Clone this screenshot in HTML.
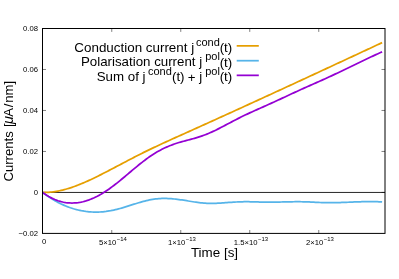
<!DOCTYPE html>
<html><head><meta charset="utf-8"><title>plot</title>
<style>
html,body{margin:0;padding:0;background:#fff;}
body{width:399px;height:279px;overflow:hidden;}
svg{display:block;will-change:transform;}
text{font-family:"Liberation Sans",sans-serif;fill:#000;}
.t{font-size:7.7px;}
.ts{font-size:5.93px;}
.k{font-size:13.3px;}
.ks{font-size:11.0px;}
.a{font-size:13.1px;}
</style></head><body>
<svg width="399" height="279" viewBox="0 0 399 279">
<rect x="0" y="0" width="399" height="279" fill="#ffffff"/>
<g stroke="#000" stroke-width="0.5" fill="none">
<path d="M42.5,192.42 h3.5 M385.0,192.42 h-3.5"/>
<path d="M42.5,151.44 h3.5 M385.0,151.44 h-3.5"/>
<path d="M42.5,110.46 h3.5 M385.0,110.46 h-3.5"/>
<path d="M42.5,69.48 h3.5 M385.0,69.48 h-3.5"/>
<path d="M111.75,233.4 v-3.4 M111.75,28.5 v3.4"/>
<path d="M180.75,233.4 v-3.4 M180.75,28.5 v3.4"/>
<path d="M249.75,233.4 v-3.4 M249.75,28.5 v3.4"/>
<path d="M318.75,233.4 v-3.4 M318.75,28.5 v3.4"/>
</g>
<path d="M42.5,192.45 H385.0" stroke="#000" stroke-width="0.85" fill="none"/>
<g fill="none" stroke-width="1.75" stroke-linejoin="round" stroke-linecap="butt">
<path d="M42.50,192.40 L44.05,192.42 L45.60,192.41 L47.15,192.36 L48.70,192.27 L50.25,192.15 L51.80,192.00 L53.35,191.81 L54.91,191.59 L56.46,191.34 L58.01,191.06 L59.56,190.75 L61.11,190.41 L62.66,190.04 L64.21,189.65 L65.76,189.23 L67.31,188.78 L68.86,188.31 L70.41,187.82 L71.96,187.31 L73.51,186.77 L75.06,186.21 L76.62,185.63 L78.17,185.04 L79.72,184.42 L81.27,183.79 L82.82,183.14 L84.37,182.48 L85.92,181.80 L87.47,181.10 L89.02,180.39 L90.57,179.68 L92.12,178.94 L93.67,178.20 L95.22,177.45 L96.77,176.69 L98.32,175.93 L99.88,175.15 L101.43,174.37 L102.98,173.58 L104.53,172.79 L106.08,171.99 L107.63,171.19 L109.18,170.39 L110.73,169.58 L112.28,168.76 L113.83,167.95 L115.38,167.13 L116.93,166.32 L118.48,165.50 L120.03,164.68 L121.58,163.86 L123.14,163.04 L124.69,162.22 L126.24,161.41 L127.79,160.59 L129.34,159.78 L130.89,158.97 L132.44,158.16 L133.99,157.36 L135.54,156.56 L137.09,155.77 L138.64,154.98 L140.19,154.20 L141.74,153.42 L143.29,152.65 L144.85,151.89 L146.40,151.13 L147.95,150.37 L149.50,149.62 L151.05,148.88 L152.60,148.14 L154.15,147.40 L155.70,146.67 L157.25,145.94 L158.80,145.22 L160.35,144.50 L161.90,143.78 L163.45,143.06 L165.00,142.35 L166.55,141.64 L168.11,140.93 L169.66,140.23 L171.21,139.52 L172.76,138.82 L174.31,138.12 L175.86,137.42 L177.41,136.72 L178.96,136.03 L180.51,135.33 L182.06,134.63 L183.61,133.94 L185.16,133.24 L186.71,132.54 L188.26,131.84 L189.82,131.15 L191.37,130.45 L192.92,129.75 L194.47,129.05 L196.02,128.35 L197.57,127.65 L199.12,126.95 L200.67,126.25 L202.22,125.55 L203.77,124.85 L205.32,124.15 L206.87,123.45 L208.42,122.74 L209.97,122.04 L211.52,121.34 L213.08,120.64 L214.63,119.93 L216.18,119.23 L217.73,118.52 L219.28,117.82 L220.83,117.12 L222.38,116.41 L223.93,115.71 L225.48,115.00 L227.03,114.29 L228.58,113.59 L230.13,112.88 L231.68,112.18 L233.23,111.47 L234.78,110.76 L236.34,110.05 L237.89,109.35 L239.44,108.64 L240.99,107.93 L242.54,107.22 L244.09,106.51 L245.64,105.80 L247.19,105.09 L248.74,104.38 L250.29,103.67 L251.84,102.96 L253.39,102.25 L254.94,101.54 L256.49,100.83 L258.05,100.12 L259.60,99.41 L261.15,98.70 L262.70,97.99 L264.25,97.27 L265.80,96.56 L267.35,95.85 L268.90,95.14 L270.45,94.42 L272.00,93.71 L273.55,93.00 L275.10,92.28 L276.65,91.57 L278.20,90.86 L279.75,90.14 L281.31,89.43 L282.86,88.71 L284.41,88.00 L285.96,87.28 L287.51,86.57 L289.06,85.85 L290.61,85.14 L292.16,84.42 L293.71,83.70 L295.26,82.99 L296.81,82.27 L298.36,81.55 L299.91,80.84 L301.46,80.12 L303.02,79.40 L304.57,78.68 L306.12,77.97 L307.67,77.25 L309.22,76.53 L310.77,75.81 L312.32,75.10 L313.87,74.38 L315.42,73.66 L316.97,72.94 L318.52,72.22 L320.07,71.50 L321.62,70.78 L323.17,70.06 L324.72,69.34 L326.28,68.62 L327.83,67.90 L329.38,67.18 L330.93,66.46 L332.48,65.74 L334.03,65.02 L335.58,64.30 L337.13,63.58 L338.68,62.86 L340.23,62.14 L341.78,61.42 L343.33,60.70 L344.88,59.98 L346.43,59.26 L347.98,58.54 L349.54,57.82 L351.09,57.09 L352.64,56.37 L354.19,55.65 L355.74,54.93 L357.29,54.21 L358.84,53.48 L360.39,52.76 L361.94,52.04 L363.49,51.32 L365.04,50.60 L366.59,49.87 L368.14,49.15 L369.69,48.43 L371.25,47.71 L372.80,46.98 L374.35,46.26 L375.90,45.54 L377.45,44.82 L379.00,44.09 L380.55,43.37 L382.10,42.65" stroke="#e69f00"/>
<path d="M42.50,192.40 L44.05,193.56 L45.60,194.69 L47.15,195.78 L48.70,196.83 L50.25,197.84 L51.80,198.82 L53.35,199.76 L54.91,200.67 L56.46,201.54 L58.01,202.37 L59.56,203.17 L61.11,203.93 L62.66,204.66 L64.21,205.35 L65.76,206.00 L67.31,206.63 L68.86,207.21 L70.41,207.77 L71.96,208.28 L73.51,208.77 L75.06,209.22 L76.62,209.64 L78.17,210.02 L79.72,210.37 L81.27,210.69 L82.82,210.97 L84.37,211.23 L85.92,211.45 L87.47,211.63 L89.02,211.79 L90.57,211.91 L92.12,212.00 L93.67,212.06 L95.22,212.09 L96.77,212.09 L98.32,212.06 L99.88,212.00 L101.43,211.90 L102.98,211.78 L104.53,211.62 L106.08,211.44 L107.63,211.22 L109.18,210.98 L110.73,210.71 L112.28,210.40 L113.83,210.07 L115.38,209.71 L116.93,209.33 L118.48,208.93 L120.03,208.50 L121.58,208.06 L123.14,207.60 L124.69,207.14 L126.24,206.66 L127.79,206.17 L129.34,205.68 L130.89,205.19 L132.44,204.69 L133.99,204.20 L135.54,203.71 L137.09,203.23 L138.64,202.76 L140.19,202.31 L141.74,201.86 L143.29,201.44 L144.85,201.03 L146.40,200.65 L147.95,200.29 L149.50,199.95 L151.05,199.65 L152.60,199.38 L154.15,199.14 L155.70,198.94 L157.25,198.77 L158.80,198.64 L160.35,198.55 L161.90,198.49 L163.45,198.46 L165.00,198.46 L166.55,198.48 L168.11,198.54 L169.66,198.62 L171.21,198.72 L172.76,198.85 L174.31,199.00 L175.86,199.16 L177.41,199.35 L178.96,199.55 L180.51,199.76 L182.06,199.99 L183.61,200.23 L185.16,200.48 L186.71,200.73 L188.26,200.99 L189.82,201.25 L191.37,201.50 L192.92,201.75 L194.47,202.00 L196.02,202.23 L197.57,202.45 L199.12,202.65 L200.67,202.83 L202.22,202.99 L203.77,203.12 L205.32,203.23 L206.87,203.31 L208.42,203.36 L209.97,203.38 L211.52,203.38 L213.08,203.36 L214.63,203.32 L216.18,203.26 L217.73,203.19 L219.28,203.10 L220.83,203.01 L222.38,202.91 L223.93,202.80 L225.48,202.69 L227.03,202.58 L228.58,202.47 L230.13,202.37 L231.68,202.27 L233.23,202.17 L234.78,202.08 L236.34,202.00 L237.89,201.93 L239.44,201.86 L240.99,201.81 L242.54,201.77 L244.09,201.74 L245.64,201.72 L247.19,201.72 L248.74,201.74 L250.29,201.76 L251.84,201.79 L253.39,201.83 L254.94,201.88 L256.49,201.92 L258.05,201.97 L259.60,202.02 L261.15,202.07 L262.70,202.11 L264.25,202.14 L265.80,202.17 L267.35,202.19 L268.90,202.21 L270.45,202.20 L272.00,202.19 L273.55,202.17 L275.10,202.15 L276.65,202.11 L278.20,202.08 L279.75,202.04 L281.31,202.00 L282.86,201.96 L284.41,201.93 L285.96,201.89 L287.51,201.85 L289.06,201.82 L290.61,201.79 L292.16,201.77 L293.71,201.75 L295.26,201.73 L296.81,201.73 L298.36,201.73 L299.91,201.73 L301.46,201.75 L303.02,201.78 L304.57,201.81 L306.12,201.86 L307.67,201.91 L309.22,201.98 L310.77,202.05 L312.32,202.12 L313.87,202.20 L315.42,202.28 L316.97,202.35 L318.52,202.43 L320.07,202.50 L321.62,202.56 L323.17,202.61 L324.72,202.66 L326.28,202.69 L327.83,202.71 L329.38,202.72 L330.93,202.72 L332.48,202.71 L334.03,202.69 L335.58,202.66 L337.13,202.63 L338.68,202.59 L340.23,202.54 L341.78,202.49 L343.33,202.43 L344.88,202.38 L346.43,202.31 L347.98,202.25 L349.54,202.19 L351.09,202.12 L352.64,202.06 L354.19,201.99 L355.74,201.93 L357.29,201.88 L358.84,201.82 L360.39,201.77 L361.94,201.73 L363.49,201.69 L365.04,201.65 L366.59,201.63 L368.14,201.61 L369.69,201.60 L371.25,201.60 L372.80,201.61 L374.35,201.64 L375.90,201.67 L377.45,201.72 L379.00,201.78 L380.55,201.86 L382.10,201.95" stroke="#56b4e9"/>
<path d="M42.50,192.40 L44.05,193.52 L45.60,194.58 L47.15,195.57 L48.70,196.49 L50.25,197.35 L51.80,198.15 L53.35,198.88 L54.91,199.55 L56.46,200.16 L58.01,200.71 L59.56,201.20 L61.11,201.63 L62.66,202.00 L64.21,202.31 L65.76,202.56 L67.31,202.76 L68.86,202.90 L70.41,202.98 L71.96,203.01 L73.51,202.99 L75.06,202.91 L76.62,202.77 L78.17,202.59 L79.72,202.35 L81.27,202.07 L82.82,201.73 L84.37,201.34 L85.92,200.90 L87.47,200.42 L89.02,199.88 L90.57,199.30 L92.12,198.67 L93.67,198.00 L95.22,197.28 L96.77,196.52 L98.32,195.71 L99.88,194.86 L101.43,193.97 L102.98,193.03 L104.53,192.06 L106.08,191.05 L107.63,190.00 L109.18,188.92 L110.73,187.81 L112.28,186.66 L113.83,185.49 L115.38,184.29 L116.93,183.07 L118.48,181.83 L120.03,180.57 L121.58,179.30 L123.14,178.01 L124.69,176.72 L126.24,175.41 L127.79,174.10 L129.34,172.79 L130.89,171.48 L132.44,170.18 L133.99,168.88 L135.54,167.59 L137.09,166.31 L138.64,165.04 L140.19,163.80 L141.74,162.57 L143.29,161.36 L144.85,160.18 L146.40,159.02 L147.95,157.90 L149.50,156.81 L151.05,155.75 L152.60,154.72 L154.15,153.73 L155.70,152.78 L157.25,151.87 L158.80,150.99 L160.35,150.15 L161.90,149.34 L163.45,148.57 L165.00,147.83 L166.55,147.12 L168.11,146.44 L169.66,145.80 L171.21,145.19 L172.76,144.60 L174.31,144.04 L175.86,143.51 L177.41,143.01 L178.96,142.53 L180.51,142.08 L182.06,141.65 L183.61,141.22 L185.16,140.81 L186.71,140.41 L188.26,140.01 L189.82,139.60 L191.37,139.19 L192.92,138.76 L194.47,138.33 L196.02,137.87 L197.57,137.39 L199.12,136.90 L200.67,136.39 L202.22,135.85 L203.77,135.29 L205.32,134.70 L206.87,134.09 L208.42,133.46 L209.97,132.79 L211.52,132.11 L213.08,131.40 L214.63,130.67 L216.18,129.92 L217.73,129.16 L219.28,128.38 L220.83,127.58 L222.38,126.78 L223.93,125.96 L225.48,125.15 L227.03,124.32 L228.58,123.50 L230.13,122.68 L231.68,121.86 L233.23,121.04 L234.78,120.24 L236.34,119.44 L237.89,118.65 L239.44,117.86 L240.99,117.09 L242.54,116.33 L244.09,115.57 L245.64,114.83 L247.19,114.09 L248.74,113.37 L250.29,112.65 L251.84,111.94 L253.39,111.24 L254.94,110.54 L256.49,109.84 L258.05,109.15 L259.60,108.46 L261.15,107.77 L262.70,107.08 L264.25,106.39 L265.80,105.69 L267.35,105.00 L268.90,104.30 L270.45,103.60 L272.00,102.89 L273.55,102.19 L275.10,101.47 L276.65,100.76 L278.20,100.04 L279.75,99.33 L281.31,98.61 L282.86,97.89 L284.41,97.17 L285.96,96.45 L287.51,95.73 L289.06,95.01 L290.61,94.29 L292.16,93.57 L293.71,92.86 L295.26,92.14 L296.81,91.43 L298.36,90.72 L299.91,90.01 L301.46,89.31 L303.02,88.61 L304.57,87.91 L306.12,87.21 L307.67,86.52 L309.22,85.83 L310.77,85.15 L312.32,84.46 L313.87,83.78 L315.42,83.09 L316.97,82.41 L318.52,81.72 L320.07,81.03 L321.62,80.34 L323.17,79.64 L324.72,78.94 L326.28,78.23 L327.83,77.52 L329.38,76.81 L330.93,76.09 L332.48,75.36 L334.03,74.63 L335.58,73.90 L337.13,73.17 L338.68,72.43 L340.23,71.69 L341.78,70.94 L343.33,70.20 L344.88,69.45 L346.43,68.70 L347.98,67.96 L349.54,67.21 L351.09,66.46 L352.64,65.71 L354.19,64.96 L355.74,64.21 L357.29,63.46 L358.84,62.71 L360.39,61.97 L361.94,61.22 L363.49,60.48 L365.04,59.74 L366.59,59.00 L368.14,58.27 L369.69,57.54 L371.25,56.82 L372.80,56.09 L374.35,55.38 L375.90,54.66 L377.45,53.95 L379.00,53.25 L380.55,52.55 L382.10,51.86" stroke="#9400d3"/>
<path d="M236.7,45.85 H258.8" stroke="#e69f00"/>
<path d="M236.7,60.7 H258.8" stroke="#56b4e9"/>
<path d="M236.7,75.35 H258.8" stroke="#9400d3"/>
</g>
<rect x="42.5" y="28.5" width="342.5" height="204.9" fill="none" stroke="#000" stroke-width="1"/>
<text class="t" x="38" y="236.05" text-anchor="end">−0.02</text>
<text class="t" x="38" y="195.07" text-anchor="end">0</text>
<text class="t" x="38" y="154.09" text-anchor="end">0.02</text>
<text class="t" x="38" y="113.11" text-anchor="end">0.04</text>
<text class="t" x="38" y="72.13" text-anchor="end">0.06</text>
<text class="t" x="38" y="31.15" text-anchor="end">0.08</text>
<text class="t" x="44.10" y="244.1" text-anchor="middle">0</text>
<text class="t" x="112.90" y="245.1" text-anchor="middle">5×10<tspan class="ts" dx="0.4" dy="-3.8">−14</tspan></text>
<text class="t" x="181.90" y="245.1" text-anchor="middle">1×10<tspan class="ts" dx="0.4" dy="-3.8">−13</tspan></text>
<text class="t" x="250.90" y="245.1" text-anchor="middle">1.5×10<tspan class="ts" dx="0.4" dy="-3.8">−13</tspan></text>
<text class="t" x="319.90" y="245.1" text-anchor="middle">2×10<tspan class="ts" dx="0.4" dy="-3.8">−13</tspan></text>
<text class="k" x="194.2" y="51.6" text-anchor="end" style="font-size:13.4px">Conduction current j</text>
<text class="ks" x="195.9" y="45.6">cond</text>
<text class="k" x="232.2" y="52.2" text-anchor="end">(t)</text>
<text class="k" x="202.2" y="66.0" text-anchor="end">Polarisation current j</text>
<text class="ks" x="205.2" y="60.0">pol</text>
<text class="k" x="232.2" y="66.6" text-anchor="end">(t)</text>
<text class="k" x="145.5" y="80.7" text-anchor="end">Sum of j</text>
<text class="ks" x="148.0" y="74.7">cond</text>
<text class="k" x="172.0" y="81.3">(t)</text>
<text class="k" x="191.7" y="81.60000000000001" text-anchor="middle">+</text>
<text class="k" x="202.2" y="80.7" text-anchor="end">j</text>
<text class="ks" x="205.2" y="74.7">pol</text>
<text class="k" x="232.2" y="81.3" text-anchor="end">(t)</text>
<text class="a" x="214.5" y="257.3" text-anchor="middle" style="font-size:13.4px">Time [s]</text>
<text class="a" transform="translate(13.2,181.5) rotate(-90)">Currents<tspan dx="0.6"> [</tspan><tspan style="font-style:italic;font-size:14.5px" dx="-0.6">μ</tspan><tspan dx="-0.6">A</tspan><tspan dx="0.7">/</tspan><tspan dx="0.9">nm]</tspan></text>
</svg>
</body></html>
